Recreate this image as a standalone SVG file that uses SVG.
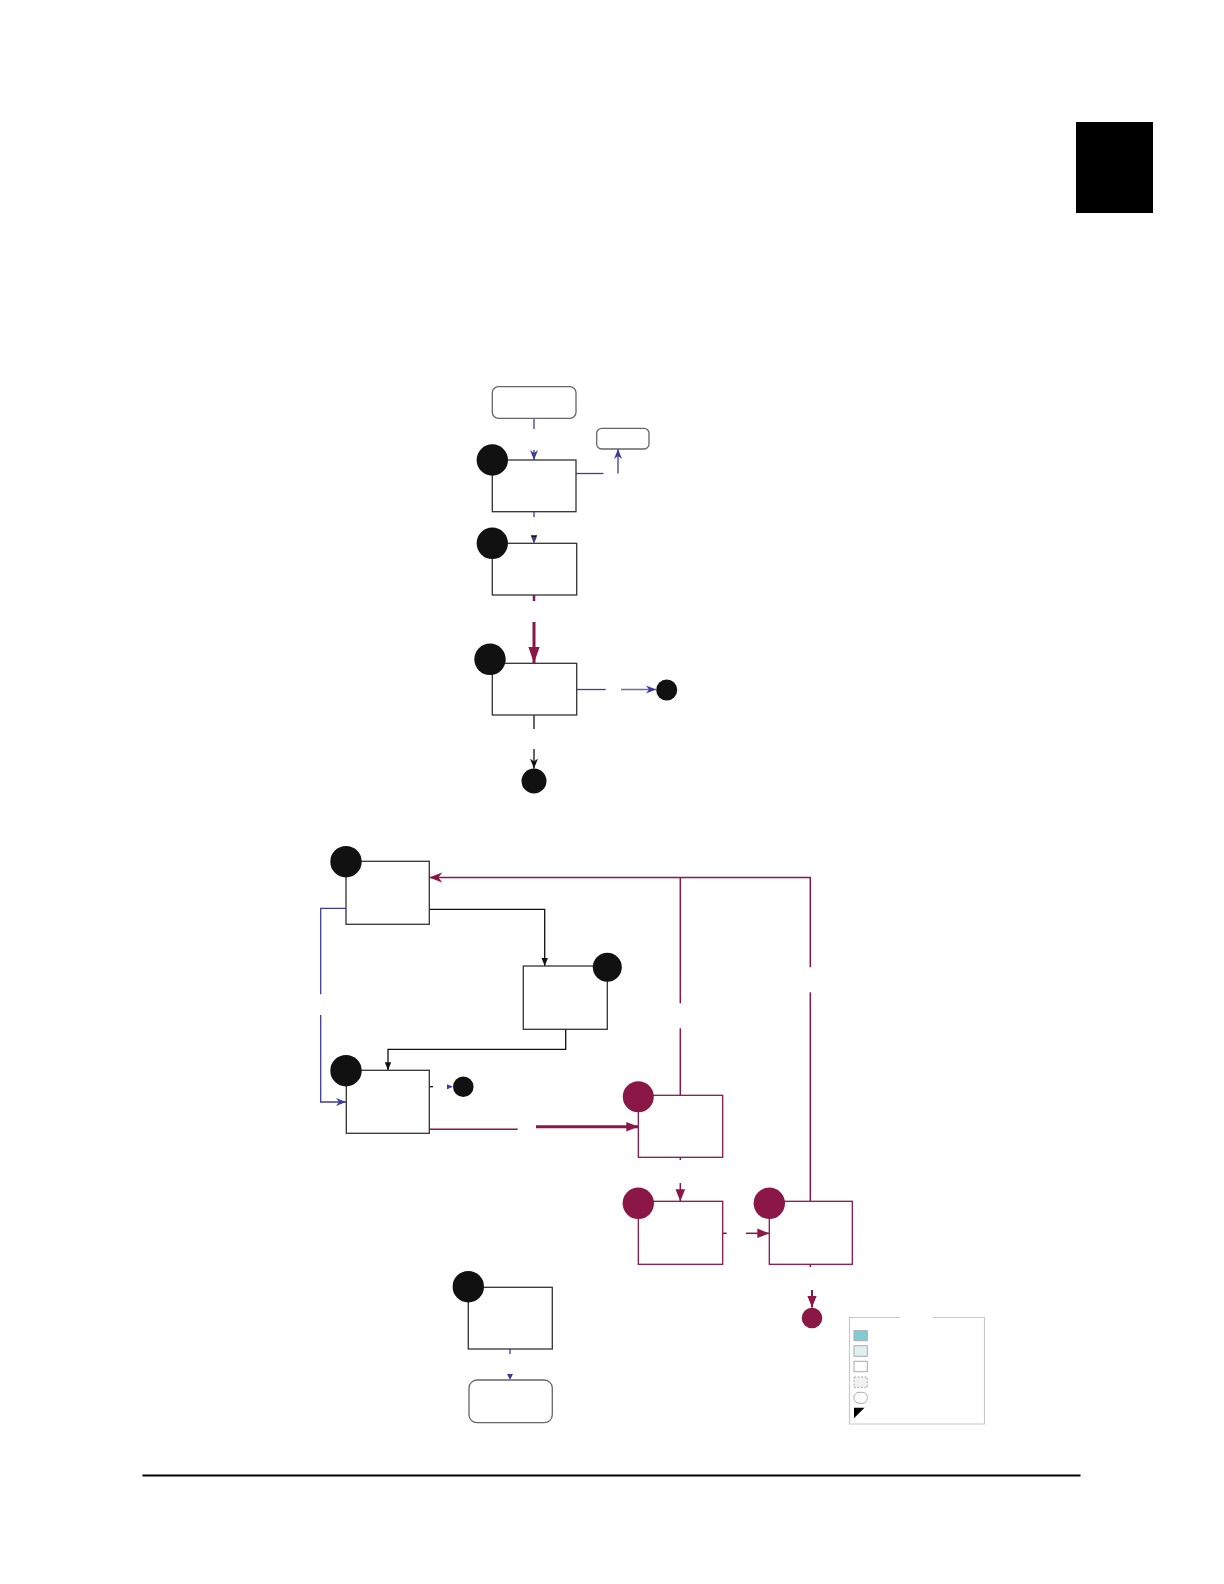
<svg xmlns="http://www.w3.org/2000/svg" width="1224" height="1584" viewBox="0 0 1224 1584">
<style>
.box{fill:#fff;stroke:#333;stroke-width:1.3}
.cbox{fill:#fff;stroke:#8a1746;stroke-width:1.3}
.term{fill:#fff;stroke:#666;stroke-width:1.3}
.dot{fill:#111}
.cdot{fill:#8a1746}
.blue{fill:none;stroke:#3d3d99;stroke-width:1.3}
.blk{fill:none;stroke:#111;stroke-width:1.3}
.crim{fill:none;stroke:#8a1746;stroke-width:1.5}
.crimT{fill:none;stroke:#8a1746;stroke-width:3}
.lg{stroke:#aaa;stroke-width:1}
</style>
<defs>
<marker id="aBlue" markerUnits="userSpaceOnUse" markerWidth="10" markerHeight="10" viewBox="0 0 10 10" refX="10" refY="5" orient="auto">
<path d="M0,1 L10,5 L0,9 L3,5 z" fill="#3d3d99"/>
</marker>
<marker id="aBlk" markerUnits="userSpaceOnUse" markerWidth="8" markerHeight="8" viewBox="0 0 10 10" refX="10" refY="5" orient="auto">
<path d="M0,1 L10,5 L0,9 z" fill="#111"/>
</marker>
<marker id="aBlkO" markerUnits="userSpaceOnUse" markerWidth="10" markerHeight="10" viewBox="0 0 10 10" refX="10" refY="5" orient="auto">
<path d="M0,1 L10,5 L0,9 L3,5 z" fill="#111"/>
</marker>
<marker id="aCrim" markerUnits="userSpaceOnUse" markerWidth="12" markerHeight="12" viewBox="0 0 10 10" refX="10" refY="5" orient="auto">
<path d="M0,1 L10,5 L0,9 z" fill="#8a1746"/>
</marker>
<marker id="aCrimO" markerUnits="userSpaceOnUse" markerWidth="13" markerHeight="13" viewBox="0 0 10 10" refX="10" refY="5" orient="auto">
<path d="M0,1 L10,5 L0,9 L3,5 z" fill="#8a1746"/>
</marker>
<marker id="aCrimBig" markerUnits="userSpaceOnUse" markerWidth="16" markerHeight="16" viewBox="0 0 10 10" refX="10" refY="5" orient="auto">
<path d="M0,1.5 L10,5 L0,8.5 z" fill="#8a1746"/>
</marker>
</defs>

<rect x="1076" y="122" width="77" height="91" fill="#000"/>
<line x1="142.5" y1="1475.5" x2="1080.5" y2="1475.5" stroke="#000" stroke-width="2.2"/>

<g id="connectors">
<line class="blue" x1="534" y1="418" x2="534" y2="429"/>
<line class="blue" x1="534" y1="450" x2="534" y2="460" marker-end="url(#aBlue)"/>
<polyline class="blue" points="576,473.5 603.5,473.5"/>
<polyline class="blue" points="618,473.5 618,449" marker-end="url(#aBlue)"/>
<line class="blue" x1="534" y1="512" x2="534" y2="517"/>
<line class="blue" x1="534" y1="537" x2="534" y2="543.3" marker-end="url(#aBlk)" style="stroke:none"/>
<path d="M531.5,537 L536.5,537 L534,543 z" fill="#3d3d99"/>
<line x1="534" y1="595" x2="534" y2="601" stroke="#8a1746" stroke-width="2.5"/>
<line class="crimT" x1="534" y1="622" x2="534" y2="663" marker-end="url(#aCrimBig)"/>
<line class="blue" x1="576.7" y1="689.5" x2="605.7" y2="689.5"/>
<line class="blue" x1="621" y1="689.5" x2="656" y2="689.5" marker-end="url(#aBlue)" style="stroke:#6a6ab0"/>
<line class="blk" x1="534" y1="715" x2="534" y2="729"/>
<line class="blk" x1="534" y1="749" x2="534" y2="768.5" marker-end="url(#aBlkO)"/>

<polyline class="crim" points="810.3,1201.3 810.3,992.3"/>
<polyline class="crim" points="810.3,967.3 810.3,877.5 429.3,877.5" marker-end="url(#aCrimO)"/>
<polyline class="crim" points="680.3,1095.3 680.3,1028.3"/>
<polyline class="crim" points="680.3,1003.3 680.3,877.5"/>
<polyline class="blk" points="429.3,909.3 544.7,909.3 544.7,966" marker-end="url(#aBlk)"/>
<polyline class="blk" points="565.7,1029.3 565.7,1049.3 388,1049.3 388,1070.3" marker-end="url(#aBlk)"/>
<polyline class="blue" points="346,908.3 320.7,908.3 320.7,994.3"/>
<polyline class="blue" points="320.7,1015 320.7,1102 346,1102" marker-end="url(#aBlue)"/>
<line class="blk" x1="429.3" y1="1086.7" x2="433" y2="1086.7"/>
<path d="M447,1084.2 L453,1086.7 L447,1089.2 z" fill="#3d3d99"/>
<line class="crim" x1="429.3" y1="1129.3" x2="517.7" y2="1129.3"/>
<line class="crimT" x1="536" y1="1126.7" x2="638.3" y2="1126.7" marker-end="url(#aCrim)"/>
<line class="crim" x1="680.3" y1="1157.3" x2="680.3" y2="1160"/>
<line class="crim" x1="680.3" y1="1183" x2="680.3" y2="1201.3" marker-end="url(#aCrim)"/>
<line class="crim" x1="722.7" y1="1233.3" x2="726.7" y2="1233.3"/>
<line class="crim" x1="746" y1="1233.3" x2="769.3" y2="1233.3" marker-end="url(#aCrim)"/>
<line class="crim" x1="810.3" y1="1264.3" x2="810.3" y2="1267"/>
<line x1="812" y1="1290" x2="812" y2="1307.5" stroke="#8a1746" stroke-width="2" marker-end="url(#aCrim)"/>
<line class="blue" x1="510" y1="1349" x2="510" y2="1354"/>
<path d="M507,1374 L513,1374 L510,1380 z" fill="#3d3d99"/>
</g>

<g id="start">
<rect class="term" x="492.3" y="386.7" width="83.7" height="31.6" rx="6"/>
</g>
<g id="side-terminal">
<rect class="term" x="596.7" y="428.3" width="52.3" height="20.7" rx="5"/>
</g>
<g id="step1">
<rect class="box" x="492.3" y="460" width="83.7" height="51.7"/>
<circle class="dot" cx="492.3" cy="460" r="15.7"/>
</g>
<g id="step2">
<rect class="box" x="492.3" y="543.3" width="84.4" height="51.7"/>
<circle class="dot" cx="492.3" cy="543.3" r="15.7"/>
</g>
<g id="step3">
<rect class="box" x="492.3" y="663.3" width="84.4" height="51.7"/>
<circle class="dot" cx="490" cy="659.3" r="15.7"/>
</g>
<g id="end-right">
<circle class="dot" cx="666.7" cy="690" r="10.5"/>
</g>
<g id="end-bottom">
<circle class="dot" cx="534" cy="781" r="12.5"/>
</g>

<g id="nodeA">
<rect class="box" x="346" y="861.3" width="83.3" height="63"/>
<circle class="dot" cx="346" cy="861.7" r="15.7"/>
</g>
<g id="nodeB">
<rect class="box" x="523.3" y="966" width="84" height="63.3"/>
<circle class="dot" cx="607.3" cy="967.3" r="14.5"/>
</g>
<g id="nodeC">
<rect class="box" x="346.3" y="1070.3" width="83" height="63"/>
<circle class="dot" cx="346" cy="1070.7" r="15.7"/>
</g>
<g id="endC">
<circle class="dot" cx="463.3" cy="1086.7" r="10.3"/>
</g>
<g id="nodeD">
<rect class="cbox" x="638.3" y="1095.3" width="84.4" height="62"/>
<circle class="cdot" cx="638.3" cy="1096.7" r="15.5"/>
</g>
<g id="nodeF">
<rect class="cbox" x="638.3" y="1201.3" width="84.4" height="63"/>
<circle class="cdot" cx="638.3" cy="1203.3" r="15.7"/>
</g>
<g id="nodeG">
<rect class="cbox" x="769.3" y="1201.3" width="83" height="63"/>
<circle class="cdot" cx="769.3" cy="1203.3" r="15.7"/>
</g>
<g id="endG">
<circle class="cdot" cx="812" cy="1318" r="10.3"/>
</g>
<g id="nodeH">
<rect class="box" x="468.3" y="1287.3" width="84" height="61.7"/>
<circle class="dot" cx="468.3" cy="1286.7" r="15.7"/>
</g>
<g id="finish">
<rect class="term" x="469" y="1380" width="83.3" height="42.7" rx="8"/>
</g>

<g id="legend">
<path d="M900,1317.5 L849.5,1317.5 L849.5,1424 L984.5,1424 L984.5,1317.5 L932.7,1317.5" fill="none" stroke="#c8c8c8" stroke-width="1.2"/>
<rect class="lg" x="854" y="1330.7" width="13.3" height="10" fill="#7fcdd4"/>
<rect class="lg" x="854" y="1345.7" width="13.3" height="10.6" fill="#dff0ef"/>
<rect class="lg" x="854" y="1361.3" width="13.3" height="10.4" fill="#fff"/>
<rect class="lg" x="854" y="1377" width="13.3" height="10.3" fill="#f0f0f0" stroke-dasharray="2,1.5"/>
<rect class="lg" x="854" y="1392.3" width="13.3" height="11" rx="5" fill="#fff"/>
<path d="M854,1407.7 L864.5,1407.7 L854,1418.3 z" fill="#000"/>
</g>
</svg>
